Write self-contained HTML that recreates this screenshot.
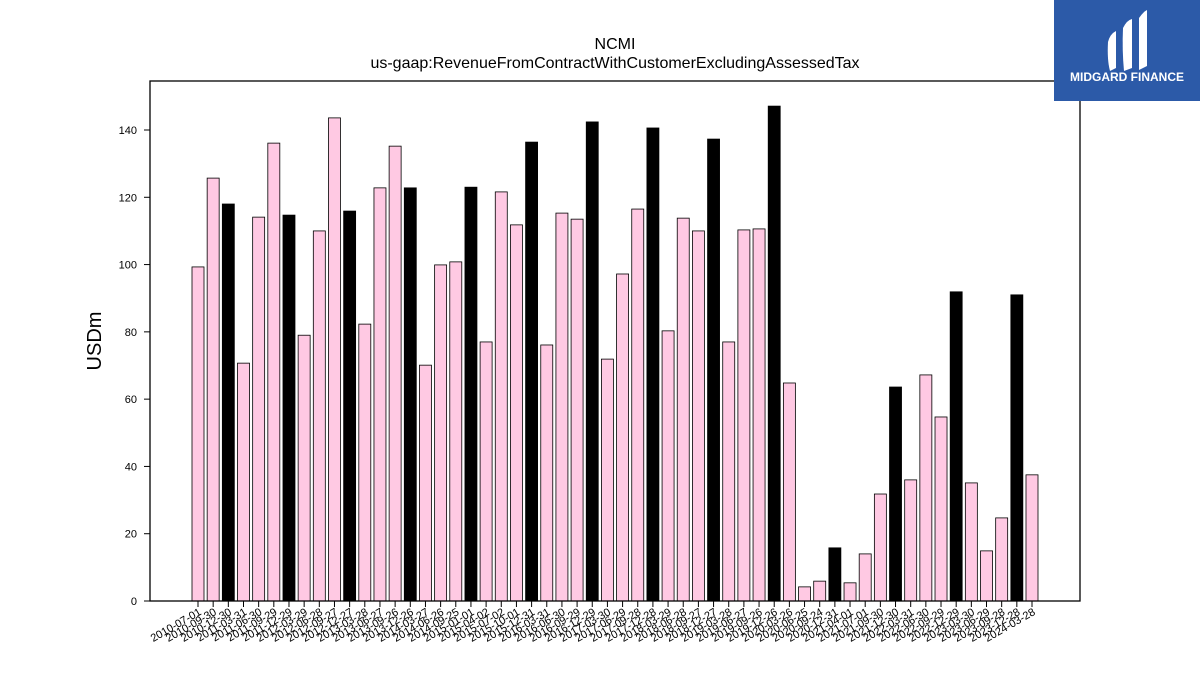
<!DOCTYPE html>
<html><head><meta charset="utf-8"><style>
body{margin:0;background:#fff;}
svg text{font-family:"Liberation Sans","DejaVu Sans",sans-serif;}
</style></head><body>
<svg width="1200" height="675" xmlns="http://www.w3.org/2000/svg">
<rect width="1200" height="675" fill="#fff"/>
<text x="615" y="49" text-anchor="middle" font-size="16">NCMI</text>
<text x="615" y="68" text-anchor="middle" font-size="16">us-gaap:RevenueFromContractWithCustomerExcludingAssessedTax</text>
<text transform="translate(101,341) rotate(-90)" text-anchor="middle" font-size="20">USDm</text>
<g id="bars"></g>
<g id="yticks"></g>
<g id="xticks"></g>
<rect x="150" y="81" width="930" height="520" fill="none" stroke="#000" stroke-width="1.3"/>
<g>
<rect x="1054" y="0" width="146" height="101" fill="#2c5aa8"/>
<path d="M1108 42 Q1110 34 1116 31 L1116 68 L1110 71 Q1107 60 1108 42Z" fill="#fff"/>
<path d="M1123 28 Q1127 20 1132 19 L1132 68 L1124 71 Q1122 50 1123 28Z" fill="#fff"/>
<path d="M1139 18 Q1143 12 1147 10 L1147 66 L1139 70Z" fill="#fff"/>
<text x="1127" y="81" text-anchor="middle" font-size="12" font-weight="bold" fill="#fff">MIDGARD FINANCE</text>
</g>
</svg>
<script>
const labels=["2010-07-01","2010-09-30","2010-12-30","2011-03-31","2011-06-30","2011-09-29","2011-12-29","2012-03-29","2012-06-28","2012-09-27","2012-12-27","2013-03-28","2013-06-27","2013-09-26","2013-12-26","2014-03-27","2014-06-26","2014-09-25","2015-01-01","2015-04-02","2015-07-02","2015-10-01","2015-12-31","2016-03-31","2016-06-30","2016-09-29","2016-12-29","2017-03-30","2017-06-29","2017-09-28","2017-12-28","2018-03-29","2018-06-28","2018-09-27","2018-12-27","2019-03-28","2019-06-27","2019-09-26","2019-12-26","2020-03-26","2020-06-25","2020-09-24","2020-12-31","2021-04-01","2021-07-01","2021-09-30","2021-12-30","2022-03-31","2022-06-30","2022-09-29","2022-12-29","2023-03-30","2023-06-29","2023-09-28","2023-12-28","2024-03-28"];
const values=[99.3,125.7,118,70.7,114.1,136.1,114.7,79,110,143.6,115.9,82.3,122.8,135.2,122.8,70.1,99.9,100.8,123,77,121.6,111.8,136.4,76.1,115.3,113.5,142.4,71.9,97.2,116.5,140.6,80.3,113.8,110,137.3,77,110.3,110.6,147.1,64.8,4.2,5.9,15.8,5.4,14,31.8,63.6,36,67.2,54.7,91.9,35.1,14.9,24.7,91,37.5];
const annual=[0,0,1,0,0,0,1,0,0,0,1,0,0,0,1,0,0,0,1,0,0,0,1,0,0,0,1,0,0,0,1,0,0,0,1,0,0,0,1,0,0,0,1,0,0,0,1,0,0,0,1,0,0,0,1,0];
const yTicks=[0,20,40,60,80,100,120,140];
const NS="http://www.w3.org/2000/svg";
const y=v=>601-v*(471/140);
const x=i=>198+i*(834/(labels.length-1));
const bw=12;
const bars=document.getElementById('bars'),xt=document.getElementById('xticks'),yt=document.getElementById('yticks');
values.forEach((v,i)=>{
 const r=document.createElementNS(NS,'rect');
 r.setAttribute('x',x(i)-bw/2);r.setAttribute('y',y(v));r.setAttribute('width',bw);r.setAttribute('height',601-y(v));
 r.setAttribute('fill',annual[i]?'#000':'#ffc9e3');r.setAttribute('stroke','#000');r.setAttribute('stroke-width','0.8');
 
 
 bars.appendChild(r);
});
labels.forEach((l,i)=>{
 const t=document.createElementNS(NS,'line');
 t.setAttribute('x1',x(i));t.setAttribute('x2',x(i));t.setAttribute('y1',601);t.setAttribute('y2',607);t.setAttribute('stroke','#000');
 
 
 xt.appendChild(t);
 const tx=document.createElementNS(NS,'text');
 tx.setAttribute('transform',`translate(${x(i)+4},${614}) rotate(-30)`);
 tx.setAttribute('text-anchor','end');tx.setAttribute('font-size','11');tx.textContent=l;
 
 
 xt.appendChild(tx);
});
yTicks.forEach(v=>{
 const t=document.createElementNS(NS,'line');
 t.setAttribute('x1',144);t.setAttribute('x2',150);t.setAttribute('y1',y(v));t.setAttribute('y2',y(v));t.setAttribute('stroke','#000');
 
 
 yt.appendChild(t);
 const tx=document.createElementNS(NS,'text');
 tx.setAttribute('x',137);tx.setAttribute('y',y(v)+4);tx.setAttribute('text-anchor','end');tx.setAttribute('font-size','11');tx.textContent=v;
 
 
 yt.appendChild(tx);
});
</script>
</body></html>
